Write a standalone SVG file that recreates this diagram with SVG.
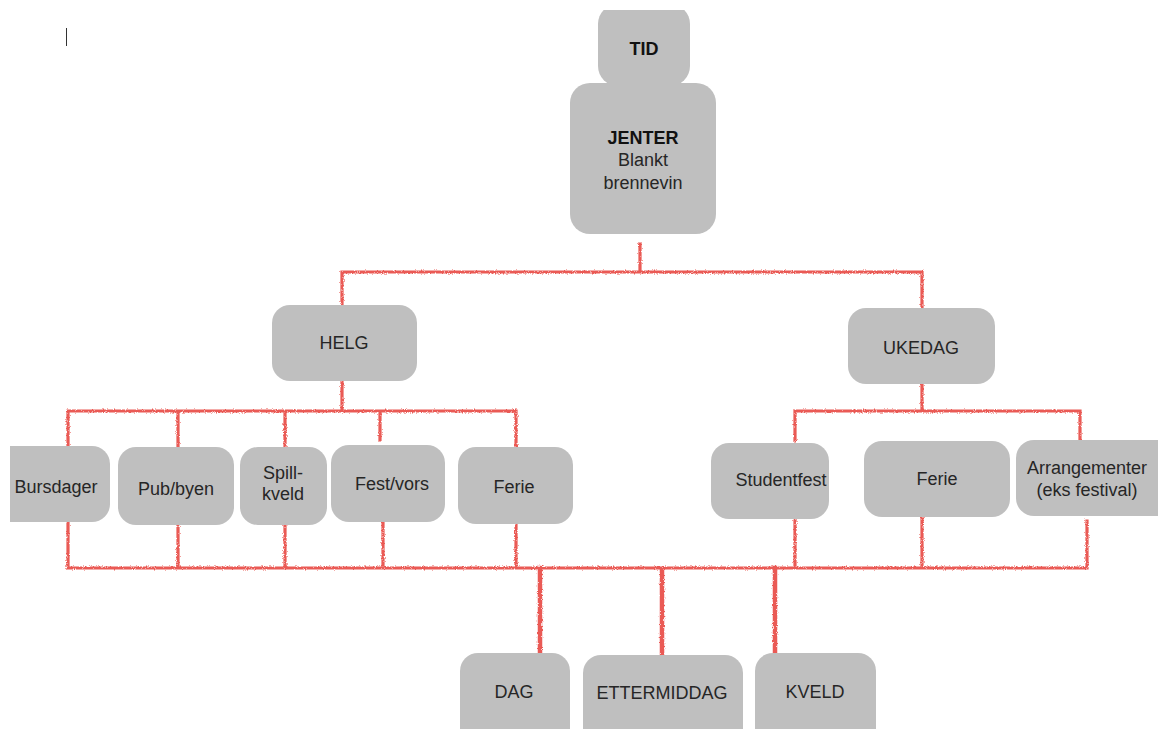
<svg xmlns="http://www.w3.org/2000/svg" width="1158" height="729" viewBox="0 0 1158 729">
<defs>
  <filter id="rough" x="-5%" y="-5%" width="110%" height="110%">
    <feTurbulence type="fractalNoise" baseFrequency="1.1" numOctaves="2" seed="3" result="n"/>
    <feDisplacementMap in="SourceGraphic" in2="n" scale="3.2" xChannelSelector="R" yChannelSelector="G"/>
  </filter>
  <clipPath id="page"><rect x="10" y="10" width="1148" height="719"/></clipPath>
</defs>
<style>
  .box { fill: #bfbfbf; }
  .t { font-family: "Liberation Sans", Arial, sans-serif; font-size: 18px; fill: #262626; text-anchor: middle; }
  .b { font-weight: bold; fill: #111; }
  .wire { fill: none; stroke: #ea5a55; stroke-width: 3.2; stroke-linecap: square; stroke-linejoin: miter; }
  .thick { stroke-width: 4.5; }
</style>
<rect width="1158" height="729" fill="#ffffff"/>
<line x1="66.5" y1="28" x2="66.5" y2="46" stroke="#333" stroke-width="1"/>

<g id="connectors" filter="url(#rough)">
  <path class="wire" d="M640 244 V272 M342 305 V272 H922 V308"/>
  <path class="wire" d="M342 382 V411 M68 445 V411 H516 V446 M178 411 V446 M285 411 V446 M380 411 V440"/>
  <path class="wire" d="M922 385 V411 M795 441 V411 H1080 V440"/>
  <path class="wire" d="M68 523 V568 H1087 V521 M178 526 V568 M285 526 V568 M383 523 V568 M516 525 V568 M795 520 V568 M922 518 V568"/>
  <path class="wire thick" d="M540 568 V654 M662 570 V656 M775 568 V654"/>
</g>

<g clip-path="url(#page)">
<g id="node-tid">
  <rect class="box" x="598" y="4" width="92" height="82" rx="20"/>
  <text class="t b" x="644" y="55">TID</text>
</g>
<g id="node-jenter">
  <rect class="box" x="570" y="83" width="146" height="151" rx="20"/>
  <text class="t b" x="643" y="144">JENTER</text>
  <text class="t" x="643" y="166">Blankt</text>
  <text class="t" x="643" y="189">brennevin</text>
</g>
<g id="node-helg">
  <rect class="box" x="272" y="305" width="145" height="76" rx="18"/>
  <text class="t" x="344" y="349">HELG</text>
</g>
<g id="node-ukedag">
  <rect class="box" x="848" y="308" width="147" height="76" rx="18"/>
  <text class="t" x="921" y="354">UKEDAG</text>
</g>
<g id="node-bursdager">
  <rect class="box" x="-10" y="446" width="120" height="76" rx="18"/>
  <text class="t" x="56" y="493">Bursdager</text>
</g>
<g id="node-pub">
  <rect class="box" x="118" y="447" width="116" height="78" rx="18"/>
  <text class="t" x="176" y="495">Pub/byen</text>
</g>
<g id="node-spill">
  <rect class="box" x="240" y="447" width="87" height="78" rx="18"/>
  <text class="t" x="283" y="479">Spill-</text>
  <text class="t" x="283" y="500">kveld</text>
</g>
<g id="node-fest">
  <rect class="box" x="331" y="445" width="114" height="77" rx="18"/>
  <text class="t" x="392" y="490">Fest/vors</text>
</g>
<g id="node-ferie1">
  <rect class="box" x="458" y="447" width="115" height="77" rx="18"/>
  <text class="t" x="514" y="493">Ferie</text>
</g>
<g id="node-studentfest">
  <rect class="box" x="711" y="443" width="118" height="76" rx="18"/>
  <text class="t" x="781" y="486">Studentfest</text>
</g>
<g id="node-ferie2">
  <rect class="box" x="864" y="441" width="146" height="76" rx="18"/>
  <text class="t" x="937" y="485">Ferie</text>
</g>
<g id="node-arrangementer">
  <rect class="box" x="1016" y="440" width="160" height="76" rx="18"/>
  <text class="t" x="1087" y="474">Arrangementer</text>
  <text class="t" x="1087" y="496">(eks festival)</text>
</g>
<g id="node-dag">
  <rect class="box" x="460" y="653" width="110" height="96" rx="18"/>
  <text class="t" x="514" y="698">DAG</text>
</g>
<g id="node-ettermiddag">
  <rect class="box" x="583" y="655" width="160" height="96" rx="18"/>
  <text class="t" x="662" y="699">ETTERMIDDAG</text>
</g>
<g id="node-kveld">
  <rect class="box" x="755" y="653" width="121" height="96" rx="18"/>
  <text class="t" x="815" y="698">KVELD</text>
</g>
</g>
</svg>
